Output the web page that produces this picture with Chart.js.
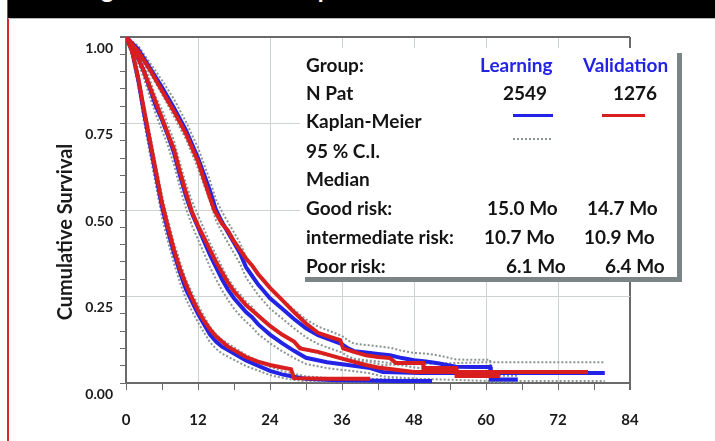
<!DOCTYPE html>
<html>
<head>
<meta charset="utf-8">
<script src="https://cdn.jsdelivr.net/npm/chart.js@4"></script>
<style>
  html, body { margin: 0; padding: 0; background: #fff; }
  #page { position: relative; width: 715px; height: 441px; overflow: hidden; background: #fff; }
  #chart { position: absolute; left: 0; top: 0; }
  #frame { position: absolute; left: 7px; top: 0; width: 2px; height: 441px; background: #d42a2a; }
  #header { position: absolute; left: 8px; top: 0; width: 707px; height: 18px; background: #000; overflow: hidden;
            border-bottom: 1px solid #b8b8b8; }
  #header span { position: absolute; left: 14px; top: -26px; font: bold 24px Lato, sans-serif; color: #fff; white-space: nowrap; }
  #legend { position: absolute; left: 300px; top: 48px; width: 377px; height: 229px; background: #fff;
            box-shadow: 5px 5px 0 #7b8585; font: bold 19px Lato, sans-serif; color: #141414; }
  #legend div { position: absolute; line-height: 24px; white-space: nowrap; }
  #legend .blue { color: #2323e6; }
  #legend .swatch { height: 3px; }
</style>
</head>
<body>
<div id="page">
  <canvas id="chart" width="715" height="441"></canvas>
  <div id="frame"></div>
  <div id="header"><span>Learning and validation samples</span></div>
  <div id="legend">
    <div style="left:6px;top:5px">Group:</div>
    <div class="blue" style="left:180px;top:5px">Learning</div>
    <div class="blue" style="left:283px;top:5px">Validation</div>
    <div style="left:6px;top:33px">N Pat</div>
    <div style="left:203px;top:33px">2549</div>
    <div style="left:313px;top:33px">1276</div>
    <div style="left:6px;top:61px">Kaplan-Meier</div>
    <div class="swatch" style="left:213px;top:66px;width:40px;background:#2323e6"></div>
    <div class="swatch" style="left:302px;top:66px;width:43px;background:#d81e1e"></div>
    <div style="left:6px;top:91px">95 % C.I.</div>
    <div style="left:213px;top:90px;width:38px;border-top:2px dotted #8a9494"></div>
    <div style="left:6px;top:119px">Median</div>
    <div style="left:6px;top:148px">Good risk:</div>
    <div style="left:187px;top:148px">15.0 Mo</div>
    <div style="left:287px;top:148px">14.7 Mo</div>
    <div style="left:6px;top:177px">intermediate risk:</div>
    <div style="left:184px;top:177px">10.7 Mo</div>
    <div style="left:284px;top:177px">10.9 Mo</div>
    <div style="left:6px;top:206px">Poor risk:</div>
    <div style="left:206px;top:206px">6.1 Mo</div>
    <div style="left:305px;top:206px">6.4 Mo</div>
  </div>
</div>
<script>
// Kaplan-Meier estimates (months, cumulative survival)

// Good risk - learning sample (with 95% C.I.)
const goodLearnT  = [0, 2, 4, 6, 8, 10, 12, 14, 15, 16, 17, 18, 19, 20, 21, 22, 23, 24, 26, 28, 30, 32, 34, 36, 37, 38, 40, 42, 44, 46, 48, 50, 52, 55, 58, 60.7, 60.8, 65.3];
const goodLearnS  = [1, 0.965, 0.91, 0.855, 0.795, 0.73, 0.65, 0.555, 0.5, 0.465, 0.435, 0.405, 0.375, 0.335, 0.31, 0.285, 0.265, 0.245, 0.215, 0.185, 0.158, 0.138, 0.125, 0.112, 0.1, 0.092, 0.088, 0.084, 0.08, 0.072, 0.066, 0.062, 0.057, 0.047, 0.046, 0.046, 0.01, 0.01];
const goodLearnLo = [1, 0.955, 0.895, 0.835, 0.77, 0.705, 0.62, 0.525, 0.47, 0.435, 0.405, 0.375, 0.345, 0.305, 0.28, 0.255, 0.235, 0.215, 0.187, 0.158, 0.132, 0.113, 0.1, 0.088, 0.077, 0.07, 0.066, 0.062, 0.058, 0.051, 0.045, 0.041, 0.037, 0.028, 0.027, 0.027, 0.003, 0.003];
const goodLearnHi = [1, 0.975, 0.925, 0.875, 0.82, 0.755, 0.68, 0.585, 0.53, 0.495, 0.465, 0.435, 0.405, 0.365, 0.34, 0.315, 0.295, 0.275, 0.243, 0.212, 0.184, 0.163, 0.15, 0.136, 0.123, 0.114, 0.11, 0.106, 0.102, 0.093, 0.087, 0.085, 0.08, 0.068, 0.067, 0.067, 0.021, 0.021];

// Intermediate risk - learning sample
const intLearnT  = [0, 1, 2, 3, 4, 5, 6, 7, 8, 9, 10, 11, 12, 13, 14, 15, 16, 17, 18, 19, 20, 21, 22, 24, 26, 28, 30, 33.5, 37, 40.7, 42.8, 49, 60, 79.8];
const intLearnS  = [1, 0.98, 0.94, 0.9, 0.85, 0.8, 0.76, 0.715, 0.665, 0.6, 0.54, 0.49, 0.45, 0.41, 0.37, 0.335, 0.3, 0.27, 0.245, 0.225, 0.205, 0.19, 0.17, 0.14, 0.115, 0.093, 0.073, 0.06, 0.052, 0.043, 0.032, 0.029, 0.029, 0.029];
const intLearnLo = [1, 0.97, 0.925, 0.88, 0.825, 0.775, 0.73, 0.685, 0.63, 0.565, 0.505, 0.455, 0.415, 0.375, 0.335, 0.3, 0.268, 0.24, 0.215, 0.195, 0.177, 0.162, 0.142, 0.115, 0.092, 0.072, 0.055, 0.043, 0.036, 0.028, 0.019, 0.012, 0.006, 0.006];
const intLearnHi = [1, 0.99, 0.955, 0.92, 0.875, 0.825, 0.79, 0.745, 0.7, 0.635, 0.575, 0.525, 0.485, 0.445, 0.405, 0.37, 0.335, 0.302, 0.277, 0.257, 0.235, 0.22, 0.198, 0.166, 0.14, 0.117, 0.095, 0.08, 0.07, 0.06, 0.052, 0.055, 0.06, 0.06];

// Poor risk - learning sample
const poorLearnT  = [0, 1, 2, 3, 4, 5, 6, 7, 8, 9, 10, 11, 12, 13, 14, 15, 16, 17, 18, 19, 20, 22, 24, 26, 28, 30, 35, 40, 45, 51];
const poorLearnS  = [1, 0.96, 0.88, 0.78, 0.69, 0.6, 0.51, 0.44, 0.375, 0.32, 0.27, 0.235, 0.2, 0.17, 0.14, 0.12, 0.105, 0.095, 0.085, 0.075, 0.065, 0.05, 0.035, 0.025, 0.018, 0.012, 0.008, 0.007, 0.006, 0.006];
const poorLearnLo = [1, 0.945, 0.86, 0.755, 0.66, 0.57, 0.478, 0.408, 0.345, 0.29, 0.242, 0.208, 0.175, 0.146, 0.118, 0.099, 0.085, 0.076, 0.067, 0.058, 0.049, 0.036, 0.023, 0.015, 0.009, 0.005, 0.003, 0.002, 0.002, 0.002];
const poorLearnHi = [1, 0.975, 0.9, 0.805, 0.72, 0.63, 0.542, 0.472, 0.405, 0.35, 0.298, 0.262, 0.225, 0.194, 0.162, 0.141, 0.125, 0.114, 0.103, 0.092, 0.081, 0.064, 0.047, 0.035, 0.027, 0.019, 0.013, 0.012, 0.011, 0.011];

// Validation sample
const goodValT = [0, 2, 4, 6, 8, 10, 12, 14, 14.7, 16, 17, 18, 19, 20, 21, 22, 23, 24, 26, 28, 30, 32, 34, 35.7, 36.2, 38, 40, 42, 44, 45, 49.5, 49.6, 55, 55.1, 62.3];
const goodValS = [1, 0.96, 0.905, 0.845, 0.785, 0.72, 0.64, 0.535, 0.5, 0.46, 0.44, 0.41, 0.385, 0.36, 0.34, 0.315, 0.295, 0.275, 0.24, 0.205, 0.172, 0.145, 0.133, 0.124, 0.1, 0.09, 0.08, 0.075, 0.072, 0.058, 0.058, 0.043, 0.043, 0.02, 0.02];

const intValT = [0, 1, 2, 3, 4, 5, 6, 7, 8, 9, 10, 11, 12, 13, 14, 15, 16, 17, 18, 19, 20, 21, 22, 23, 24, 26, 28, 29, 32, 35.7, 40, 42, 45, 48, 77];
const intValS = [1, 0.98, 0.94, 0.9, 0.855, 0.81, 0.765, 0.72, 0.675, 0.61, 0.55, 0.495, 0.455, 0.42, 0.385, 0.35, 0.32, 0.29, 0.265, 0.245, 0.225, 0.21, 0.195, 0.18, 0.165, 0.14, 0.12, 0.1, 0.09, 0.072, 0.052, 0.045, 0.038, 0.032, 0.032];

const poorValT = [0, 1, 2, 3, 4, 5, 6, 7, 8, 9, 10, 11, 12, 13, 14, 15, 16, 17, 18, 19, 20, 22, 24, 26, 27.5, 28, 33, 40.7];
const poorValS = [1, 0.96, 0.885, 0.79, 0.7, 0.61, 0.52, 0.45, 0.385, 0.33, 0.285, 0.245, 0.21, 0.18, 0.155, 0.135, 0.12, 0.105, 0.095, 0.085, 0.075, 0.062, 0.052, 0.045, 0.04, 0.014, 0.012, 0.012];

const xLabels = [0, 12, 24, 36, 48, 60, 72, 84];
const yLabels = [0, 0.25, 0.5, 0.75, 1];
const yTitle = 'Cumulative Survival';

const BLUE = '#2323e6';
const RED = '#d81e1e';
const CI = '#8a9494';
const AXIS = '#6a6a6a';
const GRID = '#cdd3d3';

function pts(t, s) {
  return t.map((m, i) => ({ x: m, y: s[i] }));
}

function km(t, s, color) {
  return { data: pts(t, s), borderColor: color, borderWidth: 4, pointRadius: 0, tension: 0, fill: false };
}

function ci(t, s) {
  return { data: pts(t, s), borderColor: CI, borderWidth: 2, borderDash: [2, 2], pointRadius: 0, tension: 0, fill: false };
}

// first dataset is painted last, so red sits on top of blue, C.I. underneath
const datasets = [
  km(goodValT, goodValS, RED),
  km(intValT, intValS, RED),
  km(poorValT, poorValS, RED),
  km(goodLearnT, goodLearnS, BLUE),
  km(intLearnT, intLearnS, BLUE),
  km(poorLearnT, poorLearnS, BLUE),
  ci(goodLearnT, goodLearnLo), ci(goodLearnT, goodLearnHi),
  ci(intLearnT, intLearnLo), ci(intLearnT, intLearnHi),
  ci(poorLearnT, poorLearnLo), ci(poorLearnT, poorLearnHi)
];

const isLabelX = v => xLabels.includes(v);
const isLabelY = v => yLabels.some(l => Math.abs(l - v) < 1e-6);

// y title sits a bit below the axis middle in the original, so draw it by hand
const yTitlePlugin = {
  id: 'yTitle',
  afterDraw(chart) {
    const ctx = chart.ctx;
    ctx.save();
    ctx.translate(66, 232);
    ctx.rotate(-Math.PI / 2);
    ctx.font = 'bold 20px Lato';
    ctx.fillStyle = '#1a1a1a';
    ctx.textAlign = 'center';
    ctx.textBaseline = 'middle';
    ctx.fillText(yTitle, 0, 0);
    ctx.restore();
  }
};

new Chart(document.getElementById('chart'), {
  type: 'line',
  data: { datasets: datasets },
  plugins: [yTitlePlugin],
  options: {
    responsive: false,
    animation: false,
    events: [],
    layout: { padding: { left: 52, right: 85, top: 37, bottom: 0 } },
    plugins: { legend: { display: false }, tooltip: { enabled: false } },
    scales: {
      x: {
        type: 'linear',
        min: 0,
        max: 84,
        afterFit: scale => { scale.height = 58; },
        ticks: {
          stepSize: 6,
          autoSkip: false,
          maxRotation: 0,
          padding: 21,
          color: '#1a1a1a',
          font: { family: 'Lato', weight: 'bold', size: 15 },
          callback: v => (isLabelX(v) ? String(v) : '')
        },
        grid: {
          tickLength: 7,
          tickColor: AXIS,
          lineWidth: ctx => (ctx.tick && ctx.tick.value === 84 ? 2 : 1),
          color: ctx => {
            const v = ctx.tick ? ctx.tick.value : -1;
            if (v === 84) return AXIS;
            if (v > 0 && v % 12 === 0) return GRID;
            return 'rgba(0,0,0,0)';
          }
        },
        border: { color: AXIS, width: 2 }
      },
      y: {
        min: 0,
        max: 1,
        afterFit: scale => { scale.width = 74; },
        ticks: {
          stepSize: 0.05,
          autoSkip: false,
          padding: 7,
          labelOffset: 11,
          color: '#1a1a1a',
          font: { family: 'Lato', weight: 'bold', size: 14 },
          callback: v => (isLabelY(v) ? v.toFixed(2) : '')
        },
        grid: {
          tickLength: 6,
          tickColor: AXIS,
          lineWidth: ctx => (ctx.tick && Math.abs(ctx.tick.value - 1) < 1e-6 ? 2 : 1),
          color: ctx => {
            const v = ctx.tick ? ctx.tick.value : -1;
            if (Math.abs(v - 1) < 1e-6) return AXIS;
            if (v > 0.01 && isLabelY(v)) return GRID;
            return 'rgba(0,0,0,0)';
          }
        },
        border: { color: AXIS, width: 2 }
      }
    }
  }
});
</script>
</body>
</html>
